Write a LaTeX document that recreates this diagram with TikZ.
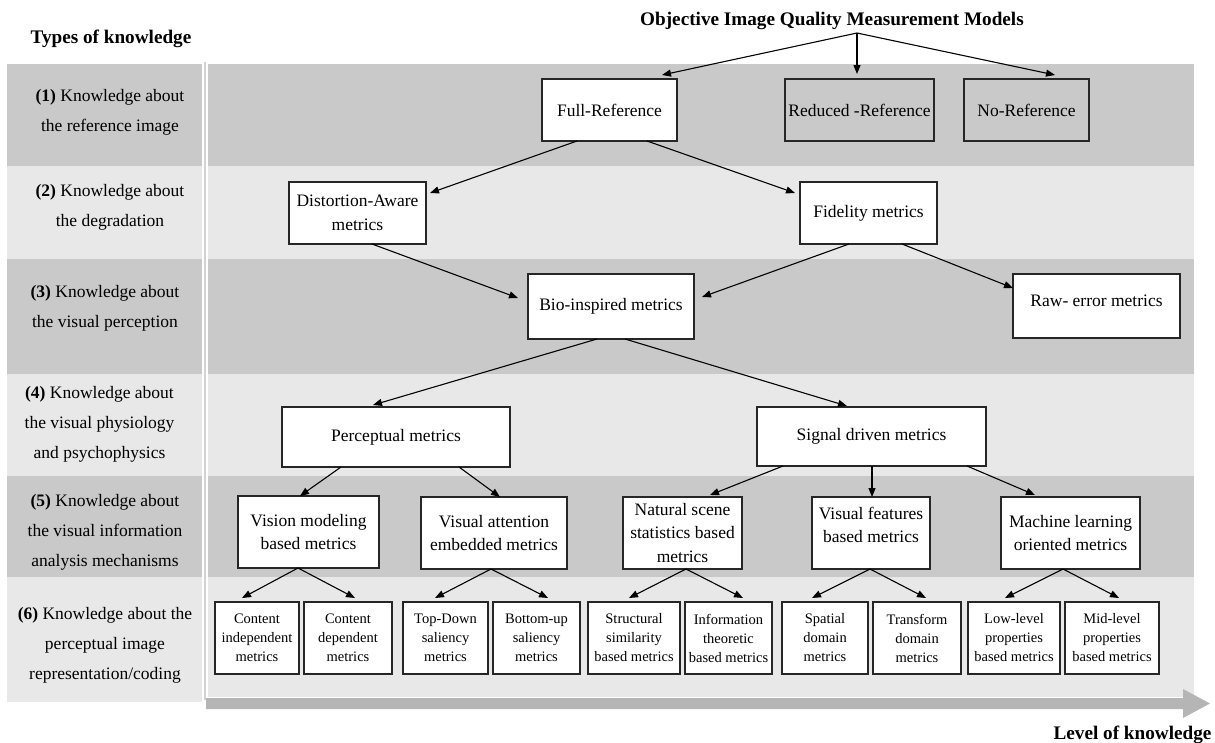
\documentclass[tikz,border=0pt]{standalone}
\usepackage{fontspec}
\setmainfont{Liberation Serif}
\usetikzlibrary{arrows.meta,calc}
\definecolor{banddark}{HTML}{C9C9C9}
\definecolor{bandlight}{HTML}{E8E8E8}
\definecolor{divider}{HTML}{D2D2D2}
\definecolor{bigarrow}{HTML}{B5B5B5}
\begin{document}
\begin{tikzpicture}[x=1pt,y=-1pt,
  box/.style={draw=black!85, line width=1.1pt, fill=white, inner sep=0pt, outer sep=0pt, align=center, font=\fontsize{17.5}{23.5}\selectfont},
  gbox/.style={box, fill=none},
  leaf/.style={box, font=\fontsize{14.5}{19}\selectfont},
  arr/.style={line width=1.1pt, -{Triangle[length=9pt,width=7pt]}},
  lefttxt/.style={align=center, inner sep=0pt, font=\fontsize{17.5}{30}\selectfont},
  heading/.style={font=\bfseries\fontsize{19.2}{23}\selectfont, inner sep=0pt, anchor=base}
]
\useasboundingbox (0,0) rectangle (1215,742);
% bands
\fill[banddark]  (7,64)   rectangle (202,166);  \fill[banddark]  (208,64)  rectangle (1194,166);
\fill[bandlight] (7,166)  rectangle (202,259);  \fill[bandlight] (208,166) rectangle (1194,259);
\fill[banddark]  (7,259)  rectangle (202,374);  \fill[banddark]  (208,259) rectangle (1194,374);
\fill[bandlight] (7,374)  rectangle (202,476);  \fill[bandlight] (208,374) rectangle (1194,476);
\fill[banddark]  (7,476)  rectangle (202,577);  \fill[banddark]  (208,476) rectangle (1194,577);
\fill[bandlight] (7,577)  rectangle (202,702);  \fill[bandlight] (208,577) rectangle (1194,697);
\draw[divider, line width=2.5pt] (205,62) -- (205,700);
% level arrow
\fill[bigarrow] (206,698) -- (1183,698) -- (1183,689) -- (1210,703.5) -- (1183,718) -- (1183,709) -- (206,709) -- cycle;
% headings
\node[heading] (title) at (832,25) {Objective Image Quality Measurement Models};
\node[heading] (types) at (111,43) {Types of knowledge};
\node[heading] (level) at (1132.5,739) {Level of knowledge};
% left texts
\node[lefttxt] (l1) at (110,112) {\textbf{(1)} Knowledge about\\the reference image};
\node[lefttxt] (l2) at (110,207) {\textbf{(2)} Knowledge about\\the degradation};
\node[lefttxt] (l3) at (105,308) {\textbf{(3)} Knowledge about\\the visual perception};
\node[lefttxt] (l4) at (99.5,424) {\textbf{(4)} Knowledge about\\the visual physiology\\and psychophysics};
\node[lefttxt] (l5) at (105,532) {\textbf{(5)} Knowledge about\\the visual information\\analysis mechanisms};
\node[lefttxt] (l6) at (105,645) {\textbf{(6)} Knowledge about the\\perceptual image\\representation/coding};
% row 1
\node[box,  minimum width=135, minimum height=62] (FR) at (609.5,110) {Full-Reference};
\node[gbox, minimum width=149, minimum height=62] (RR) at (859.5,110) {Reduced -Reference};
\node[gbox, minimum width=125, minimum height=62] (NR) at (1026.5,110) {No-Reference};
% row 2
\node[box, minimum width=137, minimum height=62] (DA) at (357.5,213) {Distortion-Aware\\metrics};
\node[box, minimum width=137, minimum height=62] (FM) at (868.5,213) {Fidelity metrics};
% row 3
\node[box, minimum width=166, minimum height=65] (BIO) at (611,306.5) {Bio-inspired metrics};
\node[box, minimum width=167, minimum height=64] (RAW) at (1096.5,306) {\smash{Raw- error metrics}};
% row 4
\node[box, minimum width=228, minimum height=60] (PM) at (396,437) {Perceptual metrics};
\node[box, minimum width=229, minimum height=59] (SD) at (871.5,436.5) {Signal driven metrics};
% row 5
\node[box, minimum width=141, minimum height=72] (VM) at (308.5,532) {Vision modeling\\based metrics};
\node[box, minimum width=146, minimum height=72] (VA) at (494,533) {Visual attention\\embedded metrics};
\node[box, minimum width=119, minimum height=72] (NS) at (682.5,533) {Natural scene\\statistics based\\metrics};
\node[box, minimum width=118, minimum height=72, label={[align=center, font=\fontsize{17.5}{23.5}\selectfont, yshift=8pt]center:{Visual features\\based metrics}}] (VF) at (871,533) {};
\node[box, minimum width=139, minimum height=72] (ML) at (1070.5,533) {Machine learning\\oriented metrics};
% row 6
\node[leaf, minimum width=84, minimum height=72] (CI)  at (257,638)    {Content\\independent\\metrics};
\node[leaf, minimum width=88, minimum height=72] (CD)  at (348,638)    {Content\\dependent\\metrics};
\node[leaf, minimum width=85, minimum height=72] (TD)  at (445.5,638)  {Top-Down\\saliency\\metrics};
\node[leaf, minimum width=87, minimum height=72] (BU)  at (536.5,638)  {Bottom-up\\saliency\\metrics};
\node[leaf, minimum width=92, minimum height=72] (SS)  at (634,638)    {Structural\\similarity\\based metrics};
\node[leaf, minimum width=87, minimum height=72] (IT)  at (728.5,638)  {Information\\theoretic\\based metrics};
\node[leaf, minimum width=86, minimum height=72] (SP)  at (825,638)    {Spatial\\domain\\metrics};
\node[leaf, minimum width=88, minimum height=72] (TR)  at (917,638)    {Transform\\domain\\metrics};
\node[leaf, minimum width=92, minimum height=72] (LL)  at (1014,638)   {Low-level\\properties\\based metrics};
\node[leaf, minimum width=94, minimum height=72] (MLv) at (1112,638)   {Mid-level\\properties\\based metrics};
% connectors
\coordinate (split) at (857,33);
\draw[arr] (split) -- ($(FR.north)+(52.5,-4)$);
\draw[arr] (split) -- ($(RR.north)+(-2.5,-5)$);
\draw[arr] (split) -- ($(NR.north)+(28.5,-4)$);
\draw[arr] ($(FR.south)+(-32.5,0)$) -- ($(DA.north east)+(4,11)$);
\draw[arr] ($(FR.south)+(37.5,0)$) -- ($(FM.north west)+(-5,11)$);
\draw[arr] ($(DA.south)+(14.5,0)$) -- ($(BIO.west)+(-10,-8.5)$);
\draw[arr] ($(FM.south)+(-19.5,0)$) -- ($(BIO.east)+(8,-9.5)$);
\draw[arr] ($(FM.south)+(33.5,0)$) -- ($(RAW.west)+(0,-18)$);
\draw[arr] ($(BIO.south)+(-14,0)$) -- ($(PM.north)+(-23,-2)$);
\draw[arr] ($(BIO.south)+(14,0)$) -- ($(SD.north)+(-24.5,-1)$);
\draw[arr] ($(PM.south)+(-55,0)$) -- ($(VM.north)+(-8.5,0)$);
\draw[arr] ($(PM.south)+(63,0)$) -- ($(VA.north)+(6,0)$);
\draw[arr] ($(SD.south)+(-88.5,0)$) -- ($(NS.north)+(27.5,-2)$);
\draw[arr] ($(SD.south)+(0.5,0)$) -- ($(VF.north)+(1,0)$);
\draw[arr] ($(SD.south)+(95.5,0)$) -- ($(ML.north)+(-35.5,-2)$);
\draw[arr] ($(VM.south)+(-10.5,0)$) -- ($(CI.north)+(-15,-4)$);
\draw[arr] ($(VM.south)+(-10.5,0)$) -- ($(CD.north)+(7,-4)$);
\draw[arr] ($(VA.south)+(-3,0)$) -- ($(TD.north)+(-10.5,-4)$);
\draw[arr] ($(VA.south)+(-3,0)$) -- ($(BU.north)+(11.5,-4)$);
\draw[arr] ($(NS.south)+(3.5,0)$) -- ($(SS.north)+(-5,-4)$);
\draw[arr] ($(NS.south)+(3.5,0)$) -- ($(IT.north)+(14.5,-4)$);
\draw[arr] ($(VF.south)+(-1,0)$) -- ($(SP.north)+(-13,-4)$);
\draw[arr] ($(VF.south)+(-1,0)$) -- ($(TR.north)+(9,-4)$);
\draw[arr] ($(ML.south)+(-7.5,0)$) -- ($(LL.north)+(-9,-4)$);
\draw[arr] ($(ML.south)+(-7.5,0)$) -- ($(MLv.north)+(7,-4)$);
\end{tikzpicture}
\end{document}
